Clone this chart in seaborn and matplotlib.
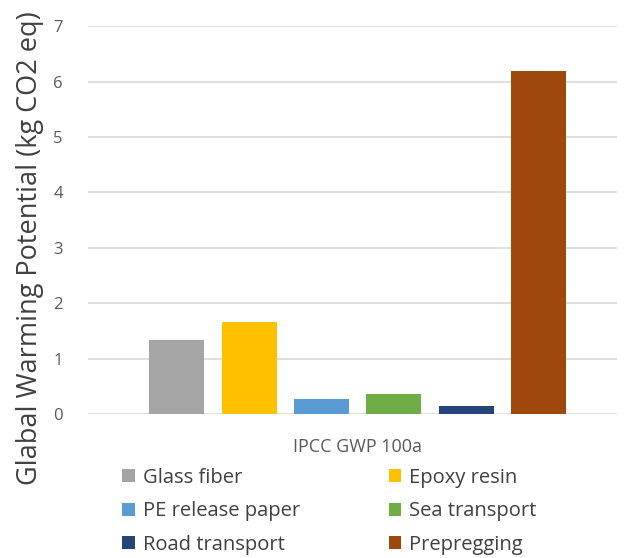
import matplotlib
matplotlib.use("Agg")
import matplotlib.pyplot as plt
import seaborn as sns
import pandas as pd
from matplotlib.patches import Patch

categories = ["Glass fiber", "Epoxy resin", "PE release paper",
              "Sea transport", "Road transport", "Prepregging"]
values = [1.33, 1.67, 0.27, 0.36, 0.15, 6.19]
colors = ["#A5A5A5", "#FFC000", "#5B9BD5", "#70AD47", "#264478", "#9E480E"]
group = "IPCC GWP 100a"
y_ticks = [0, 1, 2, 3, 4, 5, 6, 7]
y_title = "Glabal Warming Potential (kg CO2 eq)"

sns.set_theme(style="white")
plt.rcParams["font.family"] = ["Open Sans", "DejaVu Sans"]

df = pd.DataFrame({"impact": [group] * len(categories),
                   "source": categories,
                   "gwp": values})

fig = plt.figure(figsize=(6.32, 5.58), dpi=100)
ax = fig.add_axes([0.139, 0.258, 0.837, 0.695])

sns.barplot(data=df, x="impact", y="gwp", hue="source",
            hue_order=categories, palette=colors, saturation=1,
            width=0.82, gap=0.24, linewidth=0, legend=False, ax=ax)

ax.set_ylim(0, 7)
ax.set_xlim(-0.51, 0.49)
ax.set_yticks(y_ticks)
ax.yaxis.grid(True, color="#D9D9D9", linewidth=1.2)
ax.set_axisbelow(True)
for s in ax.spines.values():
    s.set_visible(False)
ax.tick_params(axis="y", length=0, colors="#595959", labelsize=12, pad=18)
ax.tick_params(axis="x", length=0, colors="#595959", labelsize=13, pad=17)
ax.set_xlabel("")
ax.set_ylabel("")
fig.text(30 / 632, 1 - 248 / 558, y_title, rotation=90, ha="center",
         va="center", fontsize=19.5, color="#404040")

# legend filled row by row (two columns)
order = [0, 2, 4, 1, 3, 5]
handles = [Patch(facecolor=colors[i], edgecolor="none") for i in order]
labels = [categories[i] for i in order]
fig.legend(handles, labels, loc="lower left", ncol=2,
           bbox_to_anchor=(0.165, -0.027), frameon=False, fontsize=14.5,
           labelcolor="#404040", handlelength=0.62, handleheight=0.62,
           handletextpad=0.4, columnspacing=4.4, labelspacing=0.68)

fig.savefig("out.png", dpi=100, facecolor="white")
